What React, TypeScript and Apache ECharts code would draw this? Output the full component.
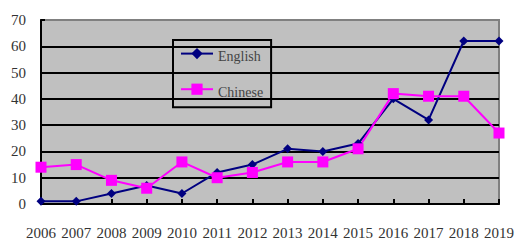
import React, { useEffect, useRef } from "react";
import * as echarts from "echarts";

const years = ["2006","2007","2008","2009","2010","2011","2012","2013","2014","2015","2016","2017","2018","2019"];
const english = [1, 1, 4, 7, 4, 12, 15, 21, 20, 23, 40, 32, 62, 62];
const chinese = [14, 15, 9, 6, 16, 10, 12, 16, 16, 21, 42, 41, 41, 27];

export default function App() {
  const ref = useRef<HTMLDivElement>(null);
  useEffect(() => {
    document.body.style.margin = "0";
    document.body.style.overflow = "hidden";
    const chart = echarts.init(ref.current!, null, { renderer: "svg" });
    chart.setOption({
      animation: false,
      grid: {
        left: 41, right: 16, top: 20, bottom: 36,
        show: true, backgroundColor: "#C0C0C0", borderColor: "#808080", borderWidth: 2,
      },
      legend: {
        left: 173, top: 40, orient: "vertical",
        itemWidth: 32, itemHeight: 14, itemGap: 20,
        padding: [8, 8, 8, 7],
        borderColor: "#000", borderWidth: 2,
        formatter: "{a|{name}}",
        textStyle: {
          fontFamily: "Liberation Serif", fontSize: 14, color: "#444",
          rich: { a: { fontFamily: "Liberation Serif", fontSize: 14, color: "#444", padding: [6, 0, 0, 0] } },
        },
        data: ["English", "Chinese"],
      },
      xAxis: {
        type: "category", data: years, boundaryGap: false,
        axisLine: { lineStyle: { color: "#000", width: 2 } },
        axisTick: { inside: true, length: 5, lineStyle: { color: "#000", width: 2 } },
        axisLabel: { margin: 21, fontFamily: "Liberation Serif", fontSize: 15, color: "#333", interval: 0 },
        splitLine: { show: false },
      },
      yAxis: {
        type: "value", min: 0, max: 70, interval: 10,
        axisLine: { show: true, lineStyle: { color: "#000", width: 2 } },
        axisTick: { show: true, inside: true, length: 4, lineStyle: { color: "#000", width: 2 } },
        axisLabel: { margin: 15, fontFamily: "Liberation Serif", fontSize: 15, color: "#333" },
        splitLine: {
          show: true,
          lineStyle: { color: ["#000","#000","#000","#000","#000","#000","#000","#808080"], width: 2 },
        },
      },
      series: [
        {
          name: "English", type: "line", data: english,
          symbol: "diamond", symbolSize: 9,
          lineStyle: { color: "#000080", width: 2 },
          itemStyle: { color: "#000080" },
        },
        {
          name: "Chinese", type: "line", data: chinese,
          symbol: "rect", symbolSize: 11,
          lineStyle: { color: "#FF00FF", width: 2 },
          itemStyle: { color: "#FF00FF" },
        },
      ],
    });
    return () => chart.dispose();
  }, []);
  return <div ref={ref} style={{ position: "absolute", left: 0, top: 0, width: 517, height: 240 }} />;
}
